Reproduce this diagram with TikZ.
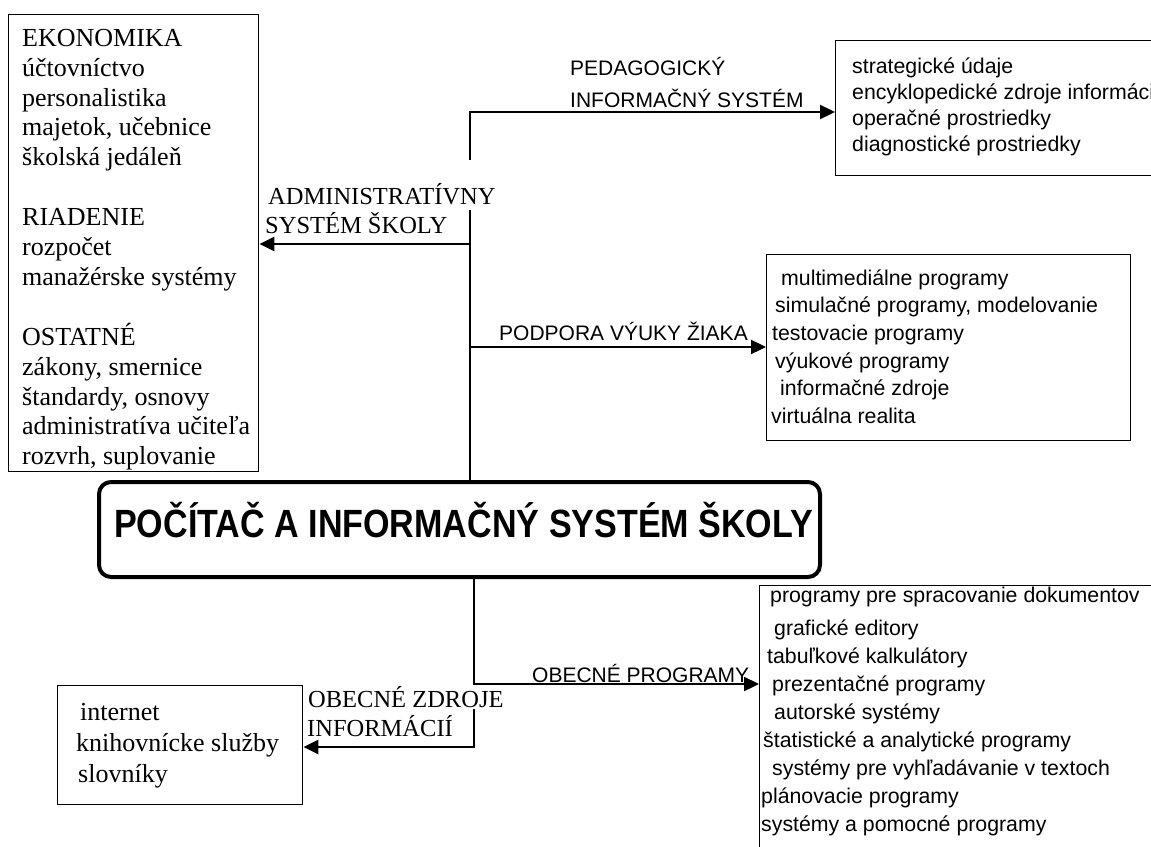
\documentclass[tikz,border=0pt]{standalone}
\usepackage{fontspec}
\setmainfont{Liberation Serif}
\newfontfamily\sansfam{Liberation Sans}
\newfontfamily\titlefam[FakeStretch=0.865]{Liberation Sans Bold}
\usetikzlibrary{arrows.meta}
% fixed first-line height, so that a block's top edge sits 24pt above its first baseline
\newcommand\topstrut{\rule{0pt}{24pt}}

\tikzset{
  frame/.style={draw, line width=1.4pt, anchor=north west, inner sep=0pt},
  conn/.style={line width=2.3pt},
  arr/.style={conn, -{Triangle[length=15pt,width=14pt]}},
  serifbox/.style={font=\fontsize{26}{29.9}\selectfont, align=left, anchor=north west, inner sep=0pt},
  sansbox/.style={font=\sansfam\fontsize{21.3}{26}\selectfont, align=left, anchor=north west, inner sep=0pt},
  seriflabel/.style={font=\fontsize{24.5}{29}\selectfont, anchor=base west, inner sep=0pt},
  sanslabel/.style={font=\sansfam\fontsize{21}{32}\selectfont, anchor=base west, inner sep=0pt},
  cover/.style={fill=white, inner sep=1pt}
}

\begin{document}
\begin{tikzpicture}[x=1pt,y=-1pt]
\useasboundingbox (0,0) rectangle (1151,846);
\clip (0,0) rectangle (1151,846);
\fill[white] (0,0) rectangle (1151,846);

% boxes
\node[frame, minimum width=250pt, minimum height=457pt] (admin) at (8,14) {};
\node[frame, minimum width=330pt, minimum height=135pt] (ped) at (835,40) {};
\node[frame, minimum width=364pt, minimum height=186pt] (podpora) at (766,254) {};
\node[frame, minimum width=420pt, minimum height=290pt] (obecne) at (759,585) {};
\node[frame, minimum width=245pt, minimum height=119pt] (zdroje) at (57,685) {};
\node[draw, line width=4pt, rounded corners=12pt, anchor=north west,
      minimum width=721pt, minimum height=95pt, inner sep=0pt] (hub) at (97,480) {};

% box contents
\node[serifbox] (admintext) at (22,22) {\topstrut EKONOMIKA\\ účtovníctvo\\ personalistika\\
  majetok, učebnice\\ školská jedáleň\\ ~\\ RIADENIE\\ rozpočet\\ manažérske systémy\\ ~\\
  OSTATNÉ\\ zákony, smernice\\ štandardy, osnovy\\ administratíva učiteľa\\ rozvrh, suplovanie};

\node[sansbox] (pedtext) at (852,49) {\topstrut strategické údaje\\ encyklopedické zdroje informácií\\
  operačné prostriedky\\ diagnostické prostriedky};

\node[sansbox, font=\sansfam\fontsize{21.3}{27.6}\selectfont] (podporatext) at (768,261) {%
  \topstrut\hspace*{13pt}multimediálne programy\\ \hspace*{7pt}simulačné programy, modelovanie\\
  \hspace*{4pt}testovacie programy\\ \hspace*{7pt}výukové programy\\
  \hspace*{12pt}informačné zdroje\\ \hspace*{3pt}virtuálna realita};

\node[sansbox, font=\sansfam\fontsize{21.3}{28}\selectfont] (obecnetext) at (761,578) {%
  \topstrut\hspace*{9pt}programy pre spracovanie dokumentov\\[5pt] \hspace*{13pt}grafické editory\\
  \hspace*{6pt}tabuľkové kalkulátory\\ \hspace*{11pt}prezentačné programy\\
  \hspace*{13pt}autorské systémy\\ \hspace*{2pt}štatistické a analytické programy\\
  \hspace*{11pt}systémy pre vyhľadávanie v textoch\\ plánovacie programy\\
  systémy a pomocné programy};

\node[serifbox, font=\fontsize{26}{31}\selectfont] (zdrojetext) at (76,696) {%
  \topstrut\hspace*{4pt}internet\\ knihovnícke služby\\ \hspace*{2pt}slovníky};

\node[font=\titlefam\fontsize{39.4}{44}\selectfont, anchor=base west, inner sep=0pt]
  (title) at (114,537) {POČÍTAČ A INFORMAČNÝ SYSTÉM ŠKOLY};

% junctions on the trunk
\coordinate (jtop) at (470,112);
\coordinate (jadm) at (470,244);
\coordinate (jpod) at (470,347);
\coordinate (jobe) at (474,684);
\coordinate (jbot) at (474,747);

% connectors
\draw[arr] (jtop |- hub.north) -- (jtop) -- (jtop -| ped.west);
\draw[arr] (jadm) -- (jadm -| admin.east);
\draw[arr] (jpod) -- (jpod -| podpora.west);
\draw[arr] (jbot |- hub.south) -- (jbot) -- (jbot -| zdroje.east);
\draw[arr] (jobe) -- (jobe -| obecne.west);

% branch labels
\node[seriflabel, cover, text height=43pt, text depth=5pt] (admlabA) at (267,204) {ADMINISTRATÍVNY};
\node[seriflabel] (admlabB) at (265,233) {SYSTÉM ŠKOLY};
\node[sansbox, font=\sansfam\fontsize{21}{32}\selectfont] (pedlab) at (570,51) {\topstrut PEDAGOGICKÝ\\ INFORMAČNÝ SYSTÉM};
\node[sanslabel] (podlab) at (499,340) {PODPORA VÝUKY ŽIAKA};
\node[sanslabel] (obelab) at (532,682) {OBECNÉ PROGRAMY};
\node[seriflabel, cover, text height=21pt, text depth=1pt] (zdrlabA) at (307,707) {OBECNÉ ZDROJE};
\node[seriflabel] (zdrlabB) at (307,736) {INFORMÁCIÍ};
\end{tikzpicture}
\end{document}
